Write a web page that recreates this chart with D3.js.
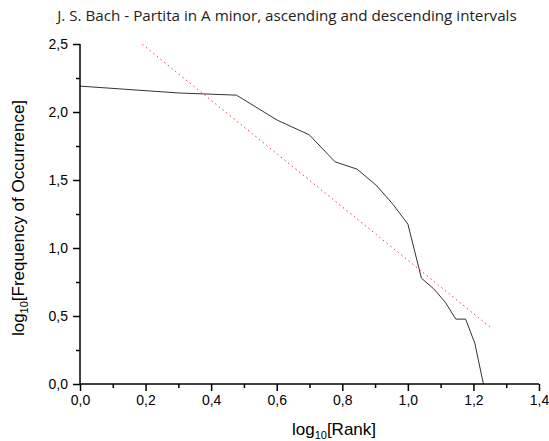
<!DOCTYPE html>
<html>
<head>
<meta charset="utf-8">
<script src="https://cdn.jsdelivr.net/npm/d3@7"></script>
<style>
  body { margin: 0; background: #fff; }
  svg { display: block; }
</style>
</head>
<body>
<div id="chart"></div>
<script>
// 순위 (1..17) 와 출현 빈도
const ranks = [1, 2, 3, 4, 5, 6, 7, 8, 9, 10, 11, 12, 13, 14, 15, 16, 17];
const frequencies = [155, 138, 133, 87, 68, 43, 38, 29, 21, 15, 6, 5, 4, 3, 3, 2, 1];

// 선형 회귀선 (log-log)
const fitX = [0.19, 1.25];
const fitIntercept = 2.87;
const fitSlope = -1.96;

// 눈금
const xTicks = [0, 0.2, 0.4, 0.6, 0.8, 1.0, 1.2, 1.4];
const xMinor = [0.1, 0.3, 0.5, 0.7, 0.9, 1.1, 1.3];
const yTicks = [0, 0.5, 1.0, 1.5, 2.0, 2.5];
const yMinor = [0.25, 0.75, 1.25, 1.75, 2.25];

const width = 549, height = 441;
const mLeft = 80, mRight = 539, mTop = 44, mBottom = 384;

const svg = d3.select("#chart").append("svg")
  .attr("width", width)
  .attr("height", height);

const x = d3.scaleLinear().domain([0, 1.4]).range([mLeft, mRight]);
const y = d3.scaleLinear().domain([0, 2.5]).range([mBottom, mTop]);

const fmt = d => d3.format(".1f")(d).replace(".", ",");

// 제목
svg.append("text")
  .attr("x", 287)
  .attr("y", 21)
  .attr("text-anchor", "middle")
  .attr("font-family", "Open Sans, sans-serif")
  .attr("font-size", "15.2px")
  .attr("fill", "#222")
  .text("J. S. Bach - Partita in A minor, ascending and descending intervals");

// 데이터 선
const points = ranks.map((r, i) => [Math.log10(r), Math.log10(frequencies[i])]);
svg.append("path")
  .datum(points)
  .attr("fill", "none")
  .attr("stroke", "#333")
  .attr("stroke-width", 1)
  .attr("d", d3.line().x(d => x(d[0])).y(d => y(d[1])));

// 회귀선 (점선)
svg.append("path")
  .datum(fitX.map(v => [v, fitIntercept + fitSlope * v]))
  .attr("fill", "none")
  .attr("stroke", "#ff3030")
  .attr("stroke-width", 1)
  .attr("stroke-dasharray", "1.5,3.2")
  .attr("d", d3.line().x(d => x(d[0])).y(d => y(d[1])));

// 축
function styleAxis(g) {
  g.selectAll("path, line").attr("stroke", "#000").attr("stroke-width", 1.5);
  g.selectAll("text")
    .attr("font-family", "Liberation Sans, Arial, sans-serif")
    .attr("font-size", "14px")
    .attr("fill", "#000");
}

const xAxis = svg.append("g")
  .attr("transform", `translate(0,${mBottom})`)
  .call(d3.axisBottom(x).tickValues(xTicks).tickFormat(fmt).tickSize(7).tickSizeOuter(0).tickPadding(4))
  .call(styleAxis);
xAxis.select(".domain").remove();

svg.append("g")
  .attr("transform", `translate(0,${mBottom})`)
  .call(d3.axisBottom(x).tickValues(xMinor).tickFormat("").tickSize(4).tickSizeOuter(0))
  .call(styleAxis)
  .select(".domain").remove();

const yAxis = svg.append("g")
  .attr("transform", `translate(${mLeft},0)`)
  .call(d3.axisLeft(y).tickValues(yTicks).tickFormat(fmt).tickSize(7).tickSizeOuter(0).tickPadding(5))
  .call(styleAxis);
yAxis.select(".domain").remove();

svg.append("g")
  .attr("transform", `translate(${mLeft},0)`)
  .call(d3.axisLeft(y).tickValues(yMinor).tickFormat("").tickSize(4).tickSizeOuter(0))
  .call(styleAxis)
  .select(".domain").remove();

// 축 선
svg.append("line")
  .attr("x1", mLeft).attr("x2", mRight)
  .attr("y1", mBottom).attr("y2", mBottom)
  .attr("stroke", "#000").attr("stroke-width", 1.5);
svg.append("line")
  .attr("x1", mLeft).attr("x2", mLeft)
  .attr("y1", mTop).attr("y2", mBottom)
  .attr("stroke", "#000").attr("stroke-width", 1.5);

// 축 제목
const xTitle = svg.append("text")
  .attr("x", 334)
  .attr("y", 435)
  .attr("text-anchor", "middle")
  .attr("font-family", "Liberation Sans, Arial, sans-serif")
  .attr("font-size", "17px")
  .attr("fill", "#000");
xTitle.append("tspan").text("log");
xTitle.append("tspan").attr("font-size", "11px").attr("dy", 4).text("10");
xTitle.append("tspan").attr("dy", -4).text("[Rank]");

const yTitle = svg.append("text")
  .attr("transform", `translate(24,${(mTop + mBottom) / 2 + 4}) rotate(-90)`)
  .attr("text-anchor", "middle")
  .attr("font-family", "Liberation Sans, Arial, sans-serif")
  .attr("font-size", "17px")
  .attr("fill", "#000");
yTitle.append("tspan").text("log");
yTitle.append("tspan").attr("font-size", "11px").attr("dy", 4).text("10");
yTitle.append("tspan").attr("dy", -4).text("[Frequency of Occurrence]");
</script>
</body>
</html>
